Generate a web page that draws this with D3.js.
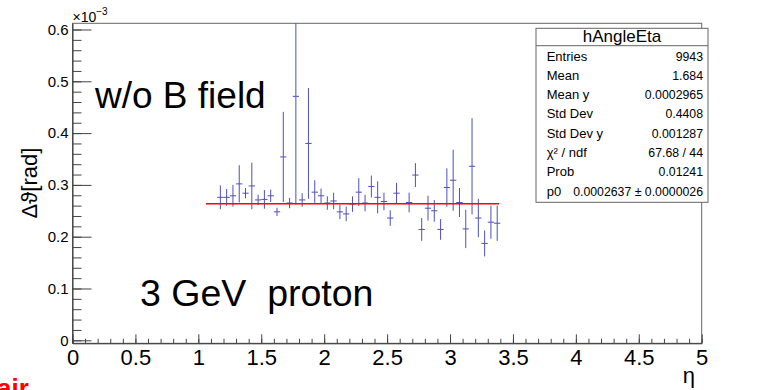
<!DOCTYPE html>
<html>
<head>
	<meta charset="utf-8">
	<title>hAngleEta</title>
	<script src="https://d3js.org/d3.v7.min.js" charset="utf-8"></script>
	<style type="text/css">
		body {
			margin: 0;
			background-color: #ffffff;
		}
		svg text {
			font-family: 'Liberation Sans', Arial, sans-serif;
			fill: #000000;
		}
	</style>
</head>
<body>
	<div id="chart"></div>

	<script type="text/javascript">

		// eta bin centres (bin width 0.05) and delta-theta values in units of 1e-3 rad
		var eta = [1.175, 1.225, 1.275, 1.325, 1.375, 1.425, 1.475, 1.525, 1.575, 1.625,
		           1.675, 1.725, 1.775, 1.825, 1.875, 1.925, 1.975, 2.025, 2.075, 2.125,
		           2.175, 2.225, 2.275, 2.325, 2.375, 2.425, 2.475, 2.525, 2.575, 2.675,
		           2.725, 2.775, 2.825, 2.875, 2.925, 2.975, 3.025, 3.075, 3.125, 3.175,
		           3.225, 3.275, 3.325, 3.375];
		var dtheta = [0.276, 0.276, 0.279, 0.302, 0.284, 0.298, 0.271, 0.272, 0.279, 0.248,
		              0.354, 0.265, 0.471, 0.271, 0.380, 0.286, 0.279, 0.265, 0.269, 0.248,
		              0.244, 0.263, 0.286, 0.265, 0.297, 0.276, 0.268, 0.236, 0.284, 0.266,
		              0.319, 0.214, 0.255, 0.250, 0.214, 0.295, 0.309, 0.266, 0.215, 0.336,
		              0.236, 0.187, 0.228, 0.226];
		var dthetaErr = [0.023, 0.016, 0.021, 0.036, 0.010, 0.045, 0.010, 0.018, 0.012, 0.008,
		                 0.087, 0.010, 0.209, 0.013, 0.107, 0.023, 0.014, 0.013, 0.016, 0.014,
		                 0.014, 0.015, 0.027, 0.016, 0.021, 0.031, 0.017, 0.015, 0.020, 0.019,
		                 0.023, 0.022, 0.024, 0.021, 0.020, 0.037, 0.059, 0.028, 0.037, 0.093,
		                 0.037, 0.025, 0.032, 0.034];

		// constant fit p0 and its range
		var fitP0 = 0.2637;
		var fitRange = [1.06, 3.39];

		var xTicks = [0, 0.5, 1, 1.5, 2, 2.5, 3, 3.5, 4, 4.5, 5];
		var yTicks = [0, 0.1, 0.2, 0.3, 0.4, 0.5, 0.6];

		var statLabels = ['Entries', 'Mean', 'Mean y', 'Std Dev', 'Std Dev y', 'χ² / ndf', 'Prob', 'p0'];
		var statValues = ['9943', '1.684', '0.0002965', '0.4408', '0.001287', '67.68 / 44', '0.01241', '0.0002637 ± 0.0000026'];

		var w = 758;
		var h = 390;
		var frame = {left: 72.5, right: 701.7, top: 23.3, bottom: 343.3};
		var binW = 0.05;
		var blue = '#4f4fbf';

		var svg = d3.select('#chart')
			.append('svg')
			.attr('width', w)
			.attr('height', h);

		svg.append('rect')
			.attr('width', w)
			.attr('height', h)
			.attr('fill', '#ffffff');

		var x = d3.scaleLinear().domain([0, 5]).range([frame.left, frame.right]);
		var y = d3.scaleLinear().domain([-0.0058, 0.612]).range([frame.bottom, frame.top]);

		svg.append('clipPath')
			.attr('id', 'clip')
			.append('rect')
			.attr('x', frame.left)
			.attr('y', frame.top)
			.attr('width', frame.right - frame.left)
			.attr('height', frame.bottom - frame.top);

		// frame
		svg.append('rect')
			.attr('x', frame.left)
			.attr('y', frame.top)
			.attr('width', frame.right - frame.left)
			.attr('height', frame.bottom - frame.top)
			.attr('fill', 'none')
			.attr('stroke', '#666666')
			.attr('stroke-width', 1);

		// x axis, ticks pointing inward
		var xMinor = d3.range(0, 5.001, 0.1);
		svg.append('g')
			.attr('transform', 'translate(0,' + frame.bottom + ')')
			.call(d3.axisBottom(x).tickValues(xMinor).tickSize(-4.5).tickSizeOuter(0).tickFormat(''))
			.call(g => g.selectAll('line').attr('stroke', '#444'))
			.call(g => g.select('.domain').attr('stroke', '#333'));

		svg.append('g')
			.attr('transform', 'translate(0,' + frame.bottom + ')')
			.call(d3.axisBottom(x).tickValues(xTicks).tickSize(-9).tickSizeOuter(0).tickPadding(6)
				.tickFormat(d => String(d)))
			.call(g => g.select('.domain').remove())
			.call(g => g.selectAll('line').attr('stroke', '#444'))
			.call(g => g.selectAll('text')
				.attr('font-size', '22px')
				.attr('font-family', "'Liberation Sans', Arial, sans-serif")
				.attr('fill', '#000'));

		// y axis
		var yMinor = d3.range(0, 0.6001, 0.02);
		svg.append('g')
			.attr('transform', 'translate(' + frame.left + ',0)')
			.call(d3.axisLeft(y).tickValues(yMinor).tickSize(-9).tickSizeOuter(0).tickFormat(''))
			.call(g => g.selectAll('line').attr('stroke', '#444'))
			.call(g => g.select('.domain').attr('stroke', '#333'));

		svg.append('g')
			.attr('transform', 'translate(' + frame.left + ',0)')
			.call(d3.axisLeft(y).tickValues(yTicks).tickSize(-19).tickSizeOuter(0).tickPadding(4)
				.tickFormat(d => String(d)))
			.call(g => g.select('.domain').remove())
			.call(g => g.selectAll('line').attr('stroke', '#444'))
			.call(g => g.selectAll('text')
				.attr('font-size', '15px')
				.attr('font-family', "'Liberation Sans', Arial, sans-serif")
				.attr('fill', '#000'));

		// x10^-3 exponent
		var expo = svg.append('text')
			.attr('x', frame.left)
			.attr('y', 21.5)
			.attr('font-size', '14px');
		expo.append('tspan').text('×10');
		expo.append('tspan').attr('dy', -6.5).attr('font-size', '10px').text('−3');

		// axis titles
		svg.append('text')
			.attr('transform', 'translate(37,183) rotate(-90)')
			.attr('text-anchor', 'middle')
			.attr('font-size', '22px')
			.text('Δϑ[rad]');

		svg.append('text')
			.attr('x', 695)
			.attr('y', 383)
			.attr('text-anchor', 'end')
			.attr('font-size', '22px')
			.text('η');

		// data points with error bars
		var pts = eta.map(function(e, i) {
			return {eta: e, v: dtheta[i], err: dthetaErr[i]};
		});

		var marks = svg.append('g').attr('clip-path', 'url(#clip)');

		marks.selectAll('line.ey')
			.data(pts)
			.enter()
			.append('line')
			.attr('class', 'ey')
			.attr('x1', d => x(d.eta))
			.attr('x2', d => x(d.eta))
			.attr('y1', d => y(d.v - d.err))
			.attr('y2', d => y(d.v + d.err))
			.attr('stroke', blue)
			.attr('stroke-width', 1);

		marks.selectAll('line.ex')
			.data(pts)
			.enter()
			.append('line')
			.attr('class', 'ex')
			.attr('x1', d => x(d.eta - binW / 2))
			.attr('x2', d => x(d.eta + binW / 2))
			.attr('y1', d => y(d.v))
			.attr('y2', d => y(d.v))
			.attr('stroke', blue)
			.attr('stroke-width', 1);

		// constant fit
		marks.append('line')
			.attr('x1', x(fitRange[0]))
			.attr('x2', x(fitRange[1]))
			.attr('y1', y(fitP0))
			.attr('y2', y(fitP0))
			.attr('stroke', '#ff0000')
			.attr('stroke-width', 1.5);

		// annotations
		svg.append('text')
			.attr('x', 95)
			.attr('y', 108)
			.attr('font-size', '37px')
			.text('w/o B field');

		svg.append('text')
			.attr('x', 140)
			.attr('y', 306)
			.attr('font-size', '37.5px')
			.style('white-space', 'pre')
			.text('3 GeV  proton');

		svg.append('text')
			.attr('x', -3)
			.attr('y', 397)
			.attr('font-size', '26px')
			.attr('font-weight', 'bold')
			.style('fill', '#ff0000')
			.text('air');

		// stats box
		var box = {x: 536, y: 28.3, w: 172, h: 174, head: 17.4, row0: 60.5, rowStep: 19.3};
		var stats = svg.append('g');

		stats.append('rect')
			.attr('x', box.x)
			.attr('y', box.y)
			.attr('width', box.w)
			.attr('height', box.h)
			.attr('fill', '#ffffff')
			.attr('stroke', '#666666')
			.attr('stroke-width', 1);

		stats.append('line')
			.attr('x1', box.x)
			.attr('x2', box.x + box.w)
			.attr('y1', box.y + box.head)
			.attr('y2', box.y + box.head)
			.attr('stroke', '#666666');

		stats.append('text')
			.attr('x', box.x + box.w / 2)
			.attr('y', 41.7)
			.attr('text-anchor', 'middle')
			.attr('font-size', '17px')
			.text('hAngleEta');

		stats.selectAll('text.lab')
			.data(statLabels)
			.enter()
			.append('text')
			.attr('class', 'lab')
			.attr('x', box.x + 10.7)
			.attr('y', (d, i) => box.row0 + i * box.rowStep)
			.attr('font-size', '13px')
			.text(d => d);

		stats.selectAll('text.val')
			.data(statValues)
			.enter()
			.append('text')
			.attr('class', 'val')
			.attr('x', 703)
			.attr('y', (d, i) => box.row0 + i * box.rowStep)
			.attr('text-anchor', 'end')
			.attr('font-size', '12.3px')
			.text(d => d);

	</script>
</body>
</html>
